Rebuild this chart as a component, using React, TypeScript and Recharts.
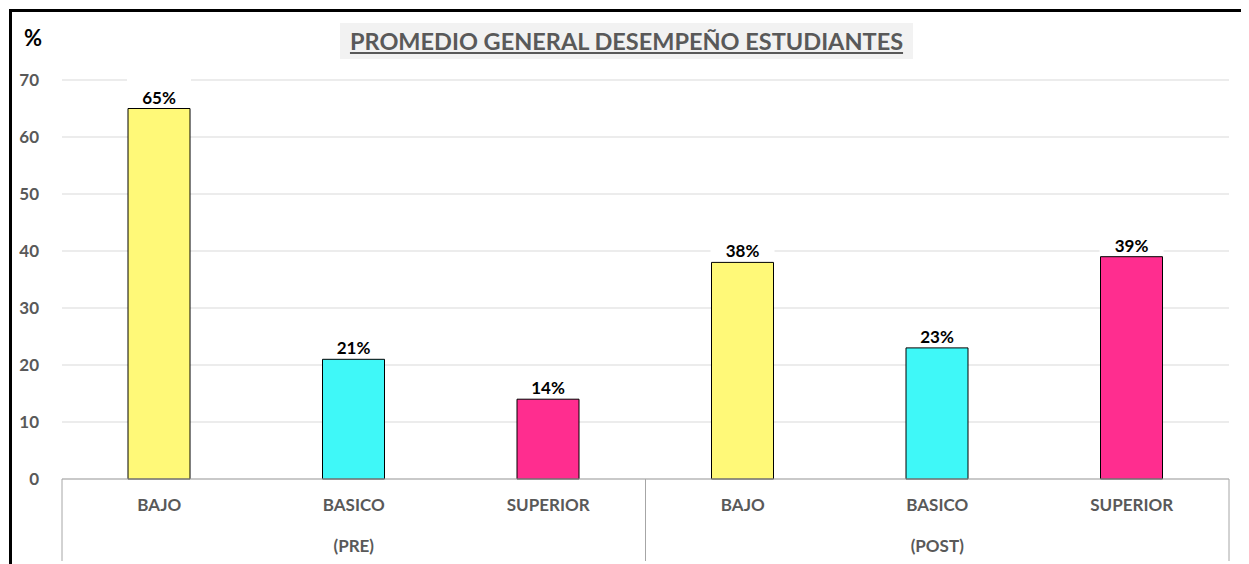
import { BarChart, Bar, XAxis, YAxis, CartesianGrid, Cell, LabelList } from 'recharts';

const categories = ['BAJO', 'BASICO', 'SUPERIOR', 'BAJO', 'BASICO', 'SUPERIOR'];
const phases = ['PRE', 'PRE', 'PRE', 'POST', 'POST', 'POST'];
const values = [65, 21, 14, 38, 23, 39];
const yTicks = [0, 10, 20, 30, 40, 50, 60, 70];

const barColors = ['#fff978', '#3ff8f8', '#ff2d8f', '#fff978', '#3ff8f8', '#ff2d8f'];

const data = categories.map((c, i) => ({ id: `${phases[i]}-${c}`, value: values[i] }));

// middle index of every phase group, and where a group starts
const groupMid: number[] = [];
const groupStart: number[] = [];
phases.forEach((p, i) => {
  if (i === 0 || phases[i - 1] !== p) {
    let last = i;
    while (last + 1 < phases.length && phases[last + 1] === p) last++;
    groupStart.push(i);
    groupMid.push(Math.floor((i + last) / 2));
  }
});

const FONT = 'Lato, "Open Sans", sans-serif';
const GREY = '#595959';

function CategoryTick(props: any) {
  const { x, y, payload } = props;
  const i = payload.index ?? props.index;
  const half = payload.offset || 97;
  return (
    <g>
      <text x={x} y={y + 32} textAnchor="middle" fontFamily={FONT} fontWeight={700} fontSize={17} fill={GREY}>
        {categories[i]}
      </text>
      {groupMid.includes(i) && (
        <text x={x} y={y + 73} textAnchor="middle" fontFamily={FONT} fontWeight={700} fontSize={17} fill={GREY}>
          ({phases[i]})
        </text>
      )}
      {groupStart.includes(i) && (
        <line x1={x - half} x2={x - half} y1={y} y2={y + 82} stroke="#a6a6a6" />
      )}
      {i === categories.length - 1 && (
        <line x1={x + half} x2={x + half} y1={y} y2={y + 82} stroke="#a6a6a6" />
      )}
    </g>
  );
}

function ValueLabel(props: any) {
  const { x, y, width, value } = props;
  const cx = x + width / 2;
  return (
    <g>
      <rect x={cx - 32} y={y - 31} width={64} height={27} fill="#ffffff" />
      <text x={cx} y={y - 5} textAnchor="middle" fontFamily={FONT} fontWeight={700} fontSize={17} fill="#000">
        {value}%
      </text>
    </g>
  );
}

export default function App() {
  return (
    <div style={{ position: 'relative', width: 1241, height: 556, background: '#fff', overflow: 'hidden' }}>
      <BarChart width={1241} height={556} data={data} margin={{ top: 72, right: 20, bottom: 0, left: 14 }}>
        <CartesianGrid vertical={false} stroke="#d9d9d9" />
        <XAxis
          dataKey="id"
          interval={0}
          height={85}
          tickSize={0}
          tickMargin={0}
          tickLine={false}
          axisLine={{ stroke: '#a6a6a6' }}
          tick={<CategoryTick />}
        />
        <YAxis
          width={40}
          domain={[0, 70]}
          ticks={yTicks}
          tickSize={0}
          tickMargin={23}
          tickLine={false}
          axisLine={false}
          tick={{ fontFamily: FONT, fontWeight: 700, fontSize: 17, fill: GREY }}
        />
        <Bar dataKey="value" barSize={62} stroke="#000" strokeWidth={1} isAnimationActive={false}>
          {data.map((d, i) => (
            <Cell key={d.id} fill={barColors[i]} />
          ))}
          <LabelList dataKey="value" content={<ValueLabel />} />
        </Bar>
      </BarChart>
      <div
        style={{
          position: 'absolute', left: 1, top: 1, width: 1300, height: 600,
          borderLeft: '3px solid #000', borderTop: '3px solid #000', pointerEvents: 'none',
        }}
      />
      <div
        style={{
          position: 'absolute', left: 332, top: 15, width: 573, height: 36,
          background: '#f2f2f2', display: 'flex', alignItems: 'center', justifyContent: 'center',
          fontFamily: FONT, fontWeight: 700, fontSize: 23.5, color: GREY, textDecoration: 'underline',
        }}
      >
        PROMEDIO GENERAL DESEMPEÑO ESTUDIANTES
      </div>
      <div
        style={{
          position: 'absolute', left: 16, top: 16, fontFamily: FONT, fontWeight: 700, fontSize: 22, color: '#000',
        }}
      >
        %
      </div>
    </div>
  );
}
